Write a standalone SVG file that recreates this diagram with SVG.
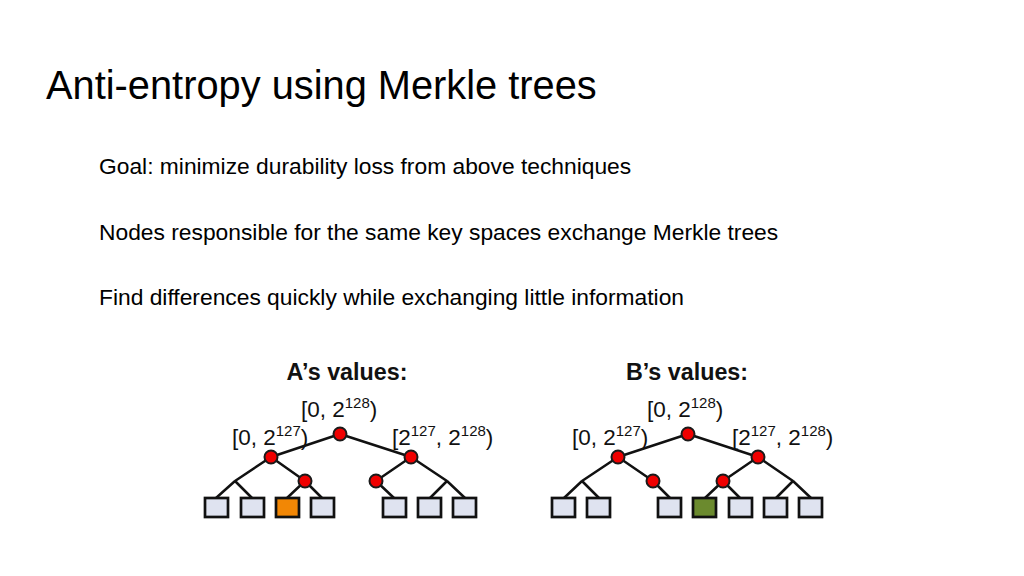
<svg xmlns="http://www.w3.org/2000/svg" width="1024" height="576" viewBox="0 0 1024 576">
<style>
.t{font-family:"Liberation Sans",Arial,sans-serif;fill:#000}
.title{font-size:39.8px}
.b{font-size:22.8px}
.h{font-size:23.3px;font-weight:bold;fill:#111}
.l{font-size:22.5px;fill:#111}
.sup{font-size:15px}
.e{stroke:#111;stroke-width:2.5;fill:none}
.n{fill:#f00000;stroke:#1a1a1a;stroke-width:2}
.leaf{fill:#dfe3f0;stroke:#111;stroke-width:2.7}
.orange{fill:#f28705}
.green{fill:#6b8a2e}
</style>
<rect width="1024" height="576" fill="#fff"/>
<text class="t title" x="46" y="99">Anti-entropy using Merkle trees</text>
<text class="t b" x="99" y="174">Goal: minimize durability loss from above techniques</text>
<text class="t b" x="99" y="240">Nodes responsible for the same key spaces exchange Merkle trees</text>
<text class="t b" x="99" y="305">Find differences quickly while exchanging little information</text>

<g id="treeA-labels">
<text class="t h" x="347" y="380" text-anchor="middle">A’s values:</text>
<text class="t l" x="301" y="417">[0, 2<tspan class="sup" dy="-9">128</tspan><tspan dy="9">)</tspan></text>
<text class="t l" x="232" y="445">[0, 2<tspan class="sup" dy="-9">127</tspan><tspan dy="9">)</tspan></text>
<text class="t l" x="392" y="445">[2<tspan class="sup" dy="-9">127</tspan><tspan dy="9">, 2</tspan><tspan class="sup" dy="-9">128</tspan><tspan dy="9">)</tspan></text>
</g>
<g id="treeB-labels">
<text class="t h" x="687" y="380" text-anchor="middle">B’s values:</text>
<text class="t l" x="647" y="417">[0, 2<tspan class="sup" dy="-9">128</tspan><tspan dy="9">)</tspan></text>
<text class="t l" x="572" y="445">[0, 2<tspan class="sup" dy="-9">127</tspan><tspan dy="9">)</tspan></text>
<text class="t l" x="732" y="445">[2<tspan class="sup" dy="-9">127</tspan><tspan dy="9">, 2</tspan><tspan class="sup" dy="-9">128</tspan><tspan dy="9">)</tspan></text>
</g>

<g id="connectors">
<path class="e" d="M340 434L271 457M340 434L411 457M271 457L235 481M271 457L305 481M235 481L216 498M235 481L252 498M305 481L287 498M305 481L322 498M411 457L376 481M411 457L447 481M376 481L394 498M447 481L430 498M447 481L465 498"/>
<path class="e" d="M688 434L618 457M688 434L758 457M618 457L582 481M618 457L653 481M582 481L564 498M582 481L599 498M653 481L670 498M758 457L723 481M758 457L793 481M723 481L705 498M723 481L740 498M793 481L776 498M793 481L811 498"/>
</g>

<g id="treeA-nodes">
<circle class="n" cx="340" cy="434" r="6.5"/>
<circle class="n" cx="271" cy="457" r="6.5"/>
<circle class="n" cx="411" cy="457" r="6.5"/>
<circle class="n" cx="305" cy="481" r="6.5"/>
<circle class="n" cx="376" cy="481" r="6.5"/>
<rect class="leaf" x="205" y="498" width="23" height="19"/>
<rect class="leaf" x="241" y="498" width="23" height="19"/>
<rect class="leaf orange" x="276" y="498" width="23" height="19"/>
<rect class="leaf" x="311" y="498" width="23" height="19"/>
<rect class="leaf" x="383" y="498" width="23" height="19"/>
<rect class="leaf" x="418" y="498" width="23" height="19"/>
<rect class="leaf" x="453" y="498" width="23" height="19"/>
</g>
<g id="treeB-nodes">
<circle class="n" cx="688" cy="434" r="6.5"/>
<circle class="n" cx="618" cy="457" r="6.5"/>
<circle class="n" cx="758" cy="457" r="6.5"/>
<circle class="n" cx="653" cy="481" r="6.5"/>
<circle class="n" cx="723" cy="481" r="6.5"/>
<rect class="leaf" x="552" y="498" width="23" height="19"/>
<rect class="leaf" x="587" y="498" width="23" height="19"/>
<rect class="leaf" x="658" y="498" width="23" height="19"/>
<rect class="leaf green" x="693" y="498" width="23" height="19"/>
<rect class="leaf" x="729" y="498" width="23" height="19"/>
<rect class="leaf" x="764" y="498" width="23" height="19"/>
<rect class="leaf" x="799" y="498" width="23" height="19"/>
</g>
</svg>
